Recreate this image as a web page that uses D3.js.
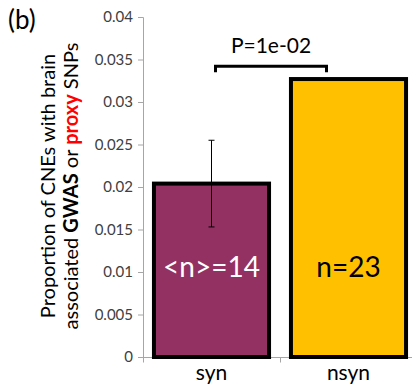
<!DOCTYPE html>
<html>
<head>
<meta charset="utf-8">
<script src="https://cdn.jsdelivr.net/npm/d3@7"></script>
<style>
    body { margin: 0; background: #fff; }
    text { font-family: "Lato", "Open Sans", sans-serif; }
</style>
</head>
<body>
<div id="chart"></div>
<script>
// chart values
var categories = ["syn", "nsyn"];
var values = [0.0204, 0.0327];
var errors = [0.0051, 0];
var barLabels = ["<n>=14", "n=23"];
var barColors = ["#943163", "#FFC000"];
var labelColors = ["#ffffff", "#000000"];
var yTicks = [0, 0.005, 0.01, 0.015, 0.02, 0.025, 0.03, 0.035, 0.04];
var pLabel = "P=1e-02";

var svgWidth = 412;
var svgHeight = 386;
var margin = { top: 17, right: -5, bottom: 29, left: 143 };
var width = svgWidth - margin.left - margin.right;
var height = svgHeight - margin.top - margin.bottom;

var svg = d3.select("#chart")
    .append("svg")
    .attr("width", svgWidth)
    .attr("height", svgHeight);

var chartGroup = svg.append("g")
    .attr("transform", `translate(${margin.left}, ${margin.top})`);

// scales
var xScale = d3.scaleBand()
    .domain(categories)
    .range([0, width])
    .paddingInner(0.16)
    .paddingOuter(0.08);

var yScale = d3.scaleLinear()
    .domain([0, 0.04])
    .range([height, 0]);

// y axis
var leftAxis = d3.axisLeft(yScale)
    .tickValues(yTicks)
    .tickSize(5)
    .tickPadding(5)
    .tickFormat(d => d === 0 ? "0" : String(+d.toFixed(3)));

var yAxisG = chartGroup.append("g").call(leftAxis);
yAxisG.select(".domain").attr("stroke", "#a6a6a6").attr("d", `M-5,0.5H0.5V${height}`);
yAxisG.selectAll(".tick line").attr("stroke", "#a6a6a6");
yAxisG.selectAll(".tick text")
    .attr("fill", "#404040")
    .style("font-size", "15px");

// x axis line with a tick between the groups
var xLine = chartGroup.append("g").attr("transform", `translate(0, ${height + 0.5})`);
xLine.append("line")
    .attr("x1", -5).attr("x2", width)
    .attr("stroke", "#a6a6a6");
var boundaries = [0, (xScale("syn") + xScale.bandwidth() + xScale("nsyn")) / 2];
boundaries.forEach(function (bx) {
    xLine.append("line")
        .attr("x1", bx + 0.5).attr("x2", bx + 0.5)
        .attr("y1", 0).attr("y2", 5)
        .attr("stroke", "#a6a6a6");
});

xLine.selectAll(".xlab")
    .data(categories)
    .enter()
    .append("text")
    .attr("x", d => xScale(d) + xScale.bandwidth() / 2)
    .attr("y", 22)
    .attr("text-anchor", "middle")
    .attr("fill", "#000")
    .style("font-size", "21px")
    .text(d => d);

// bars
chartGroup.selectAll(".bar")
    .data(values)
    .enter()
    .append("rect")
    .attr("x", (d, i) => xScale(categories[i]))
    .attr("y", d => yScale(d))
    .attr("width", xScale.bandwidth())
    .attr("height", d => height - yScale(d))
    .attr("fill", (d, i) => barColors[i])
    .attr("stroke", "#000")
    .attr("stroke-width", 4);

// error bar on syn
values.forEach(function (v, i) {
    if (!errors[i]) return;
    var cx = xScale(categories[i]) + xScale.bandwidth() / 2;
    var g = chartGroup.append("g").attr("stroke", "#000").attr("stroke-width", 1);
    g.append("line").attr("x1", cx).attr("x2", cx)
        .attr("y1", yScale(v + errors[i])).attr("y2", yScale(v - errors[i]));
    [v + errors[i], v - errors[i]].forEach(function (e) {
        g.append("line").attr("x1", cx - 3).attr("x2", cx + 3)
            .attr("y1", yScale(e)).attr("y2", yScale(e));
    });
});

// labels inside bars
chartGroup.selectAll(".barlab")
    .data(barLabels)
    .enter()
    .append("text")
    .attr("x", (d, i) => xScale(categories[i]) + xScale.bandwidth() / 2)
    .attr("y", yScale(0.0094))
    .attr("text-anchor", "middle")
    .attr("fill", (d, i) => labelColors[i])
    .style("font-size", "28px")
    .text(d => d);

// significance bracket
var bx1 = xScale("syn") + xScale.bandwidth() / 2 + 4;
var bx2 = xScale("nsyn") + xScale.bandwidth() / 2 - 22;
var by = yScale(0.0342);
chartGroup.append("path")
    .attr("d", `M${bx1},${by + 6}V${by}H${bx2}V${by + 6}`)
    .attr("fill", "none")
    .attr("stroke", "#000")
    .attr("stroke-width", 3);
chartGroup.append("text")
    .attr("x", (bx1 + bx2) / 2)
    .attr("y", by - 13)
    .attr("text-anchor", "middle")
    .style("font-size", "21px")
    .attr("fill", "#000")
    .text(pLabel);

// y axis title (two lines)
var yTitle = svg.append("text")
    .attr("transform", `translate(0, ${margin.top + height / 2 - 1}) rotate(-90)`)
    .attr("text-anchor", "middle")
    .style("font-size", "20px")
    .attr("fill", "#000");
yTitle.append("tspan").attr("x", 0).attr("y", 55).text("Proportion of CNEs with brain");
var line2 = yTitle.append("tspan").attr("x", 0).attr("y", 78);
line2.append("tspan").text("associated ");
line2.append("tspan").style("font-weight", "bold").text("GWAS");
line2.append("tspan").text(" or ");
line2.append("tspan").style("font-weight", "bold").attr("fill", "#ff0000").text("proxy");
line2.append("tspan").text(" SNPs");

// panel letter
svg.append("text")
    .attr("x", 8)
    .attr("y", 29)
    .style("font-size", "26px")
    .attr("fill", "#000")
    .text("(b)");
</script>
</body>
</html>
